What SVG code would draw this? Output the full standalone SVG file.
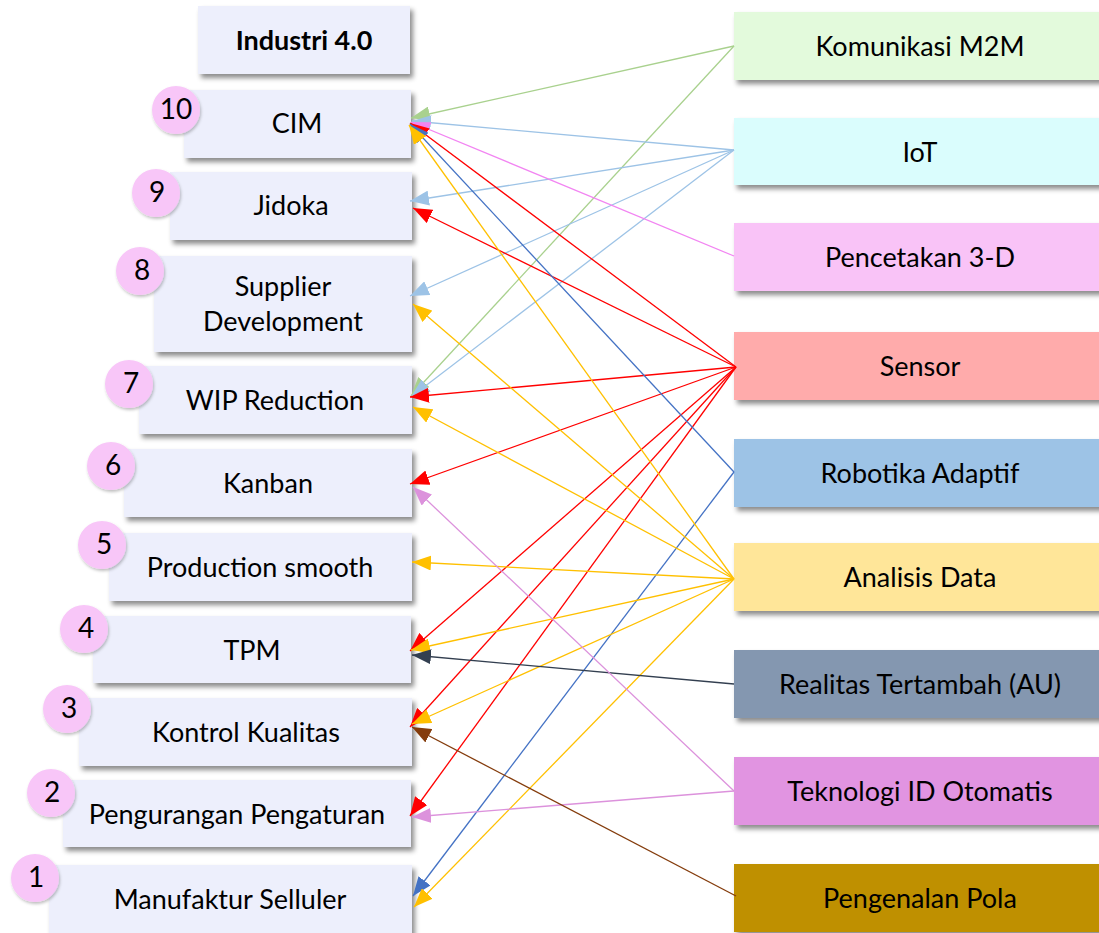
<svg xmlns="http://www.w3.org/2000/svg" width="1099" height="933" viewBox="0 0 1099 933">
  <defs>
    <filter id="shadow" x="-10%" y="-20%" width="130%" height="160%">
      <feDropShadow dx="3" dy="4" stdDeviation="2.5" flood-color="#000" flood-opacity="0.45"/>
    </filter>
    <filter id="shadowSoft" x="-20%" y="-20%" width="150%" height="150%">
      <feDropShadow dx="1" dy="2" stdDeviation="1.5" flood-color="#000" flood-opacity="0.25"/>
    </filter>
    <path id="tri" d="M0,0 L19,7.5 L0,15 z"/>
    <marker id="ah-green" markerWidth="19" markerHeight="15" refX="19" refY="7.5" orient="auto" markerUnits="userSpaceOnUse"><use href="#tri" fill="#A9D18E"/></marker>
    <marker id="ah-lblue" markerWidth="19" markerHeight="15" refX="19" refY="7.5" orient="auto" markerUnits="userSpaceOnUse"><use href="#tri" fill="#9DC3E6"/></marker>
    <marker id="ah-pink" markerWidth="19" markerHeight="15" refX="19" refY="7.5" orient="auto" markerUnits="userSpaceOnUse"><use href="#tri" fill="#F285F2"/></marker>
    <marker id="ah-red" markerWidth="19" markerHeight="15" refX="19" refY="7.5" orient="auto" markerUnits="userSpaceOnUse"><use href="#tri" fill="#FF0000"/></marker>
    <marker id="ah-blue" markerWidth="19" markerHeight="15" refX="19" refY="7.5" orient="auto" markerUnits="userSpaceOnUse"><use href="#tri" fill="#4472C4"/></marker>
    <marker id="ah-yellow" markerWidth="19" markerHeight="15" refX="19" refY="7.5" orient="auto" markerUnits="userSpaceOnUse"><use href="#tri" fill="#FFC000"/></marker>
    <marker id="ah-dark" markerWidth="19" markerHeight="15" refX="19" refY="7.5" orient="auto" markerUnits="userSpaceOnUse"><use href="#tri" fill="#333F50"/></marker>
    <marker id="ah-violet" markerWidth="19" markerHeight="15" refX="19" refY="7.5" orient="auto" markerUnits="userSpaceOnUse"><use href="#tri" fill="#DC92DC"/></marker>
    <marker id="ah-brown" markerWidth="19" markerHeight="15" refX="19" refY="7.5" orient="auto" markerUnits="userSpaceOnUse"><use href="#tri" fill="#843C0C"/></marker>
  </defs>
  <style>
    .box { fill: #EDEFFC; filter: url(#shadow); }
    .tech { filter: url(#shadow); }
    .num { fill: #F8C6F8; filter: url(#shadowSoft); }
    text { font-family: Lato, "Open Sans", "Liberation Sans", sans-serif; font-size: 27px; fill: #000; text-anchor: middle; }
    .title { font-weight: bold; }
    .n { font-size: 28px; }
    .c { fill: none; stroke-width: 1.3; }
    .green { stroke: #A9D18E; marker-end: url(#ah-green); }
    .lblue { stroke: #9DC3E6; marker-end: url(#ah-lblue); }
    .pink { stroke: #F285F2; marker-end: url(#ah-pink); }
    .red { stroke: #FF0000; marker-end: url(#ah-red); }
    .blue { stroke: #4472C4; marker-end: url(#ah-blue); }
    .yellow { stroke: #FFC000; marker-end: url(#ah-yellow); }
    .dark { stroke: #333F50; marker-end: url(#ah-dark); }
    .violet { stroke: #DC92DC; marker-end: url(#ah-violet); }
    .brown { stroke: #843C0C; marker-end: url(#ah-brown); }
  </style>
  <rect width="1099" height="933" fill="#fff"/>

  <!-- Lean practices (left column) -->
  <g id="industri40">
    <rect class="box" x="198" y="6" width="212" height="68"/>
    <text class="title" x="304" y="50">Industri 4.0</text>
  </g>
  <g id="cim">
    <rect class="box" x="184" y="90" width="227" height="68"/>
    <text x="297" y="133">CIM</text>
    <circle class="num" cx="176" cy="110" r="24"/>
    <text class="n" x="176" y="119">10</text>
  </g>
  <g id="jidoka">
    <rect class="box" x="170" y="172" width="242" height="68"/>
    <text x="291" y="215">Jidoka</text>
    <circle class="num" cx="156" cy="193" r="24"/>
    <text class="n" x="157" y="202">9</text>
  </g>
  <g id="supplier-development">
    <rect class="box" x="154" y="256" width="258" height="96"/>
    <text x="283" y="296">Supplier</text>
    <text x="283" y="331">Development</text>
    <circle class="num" cx="140" cy="271" r="24"/>
    <text class="n" x="142" y="280">8</text>
  </g>
  <g id="wip-reduction">
    <rect class="box" x="139" y="366" width="273" height="68"/>
    <text x="275" y="410">WIP Reduction</text>
    <circle class="num" cx="129" cy="384" r="24"/>
    <text class="n" x="131" y="393">7</text>
  </g>
  <g id="kanban">
    <rect class="box" x="124" y="449" width="288" height="68"/>
    <text x="268" y="493">Kanban</text>
    <circle class="num" cx="111" cy="466" r="24"/>
    <text class="n" x="113" y="475">6</text>
  </g>
  <g id="production-smooth">
    <rect class="box" x="109" y="533" width="303" height="68"/>
    <text x="260" y="577">Production smooth</text>
    <circle class="num" cx="102" cy="545" r="24"/>
    <text class="n" x="104" y="554">5</text>
  </g>
  <g id="tpm">
    <rect class="box" x="93" y="616" width="318" height="67"/>
    <text x="252" y="660">TPM</text>
    <circle class="num" cx="84" cy="629" r="24"/>
    <text class="n" x="86" y="638">4</text>
  </g>
  <g id="kontrol-kualitas">
    <rect class="box" x="79" y="698" width="333" height="68"/>
    <text x="246" y="742">Kontrol Kualitas</text>
    <circle class="num" cx="67" cy="709" r="24"/>
    <text class="n" x="69" y="718">3</text>
  </g>
  <g id="pengurangan-pengaturan">
    <rect class="box" x="63" y="780" width="348" height="67"/>
    <text x="237" y="824">Pengurangan Pengaturan</text>
    <circle class="num" cx="51" cy="793" r="24"/>
    <text class="n" x="52" y="802">2</text>
  </g>
  <g id="manufaktur-selluler">
    <rect class="box" x="49" y="865" width="363" height="72"/>
    <text x="230" y="909">Manufaktur Selluler</text>
    <circle class="num" cx="35" cy="878" r="24"/>
    <text class="n" x="36" y="887">1</text>
  </g>

  <!-- Industry 4.0 technologies (right column) -->
  <g id="komunikasi-m2m">
    <rect class="tech" x="734" y="12" width="372" height="68" fill="#E3FADC"/>
    <text x="920" y="56">Komunikasi M2M</text>
  </g>
  <g id="iot">
    <rect class="tech" x="734" y="118" width="372" height="67" fill="#DAFDFD"/>
    <text x="920" y="162">IoT</text>
  </g>
  <g id="pencetakan-3d">
    <rect class="tech" x="734" y="223" width="372" height="68" fill="#F9C3F7"/>
    <text x="920" y="267">Pencetakan 3-D</text>
  </g>
  <g id="sensor">
    <rect class="tech" x="734" y="332" width="372" height="68" fill="#FFABAB"/>
    <text x="920" y="376">Sensor</text>
  </g>
  <g id="robotika-adaptif">
    <rect class="tech" x="734" y="439" width="372" height="68" fill="#9DC3E6"/>
    <text x="920" y="483">Robotika Adaptif</text>
  </g>
  <g id="analisis-data">
    <rect class="tech" x="734" y="543" width="372" height="68" fill="#FFE699"/>
    <text x="920" y="587">Analisis Data</text>
  </g>
  <g id="realitas-tertambah">
    <rect class="tech" x="734" y="650" width="372" height="68" fill="#8497B0"/>
    <text x="920" y="694">Realitas Tertambah (AU)</text>
  </g>
  <g id="teknologi-id">
    <rect class="tech" x="734" y="757" width="372" height="68" fill="#E194E1"/>
    <text x="920" y="801">Teknologi ID Otomatis</text>
  </g>
  <g id="pengenalan-pola">
    <rect class="tech" x="734" y="864" width="372" height="68" fill="#BF9000"/>
    <text x="920" y="908">Pengenalan Pola</text>
  </g>

  <!-- Connectors: technology -> practice -->
  <g id="connectors">
    <line class="c green" x1="734" y1="46" x2="411" y2="118"/>
    <line class="c green" x1="734" y1="46" x2="411" y2="396"/>

    <line class="c lblue" x1="734" y1="150" x2="412" y2="121"/>
    <line class="c lblue" x1="734" y1="150" x2="410" y2="201"/>
    <line class="c lblue" x1="734" y1="150" x2="410" y2="296"/>
    <line class="c lblue" x1="734" y1="150" x2="411" y2="397"/>

    <line class="c pink" x1="734" y1="256" x2="411" y2="122"/>

    <line class="c red" x1="736" y1="367" x2="410" y2="123"/>
    <line class="c red" x1="736" y1="367" x2="413" y2="208"/>
    <line class="c red" x1="736" y1="367" x2="410" y2="397"/>
    <line class="c red" x1="736" y1="367" x2="410" y2="484"/>
    <line class="c red" x1="736" y1="367" x2="410" y2="651"/>
    <line class="c red" x1="736" y1="367" x2="410" y2="727"/>
    <line class="c red" x1="736" y1="367" x2="410" y2="816"/>

    <line class="c blue" x1="734" y1="472" x2="410" y2="124"/>
    <line class="c blue" x1="734" y1="472" x2="413" y2="896"/>

    <line class="c yellow" x1="734" y1="579" x2="409" y2="125"/>
    <line class="c yellow" x1="734" y1="579" x2="413" y2="304"/>
    <line class="c yellow" x1="734" y1="579" x2="413" y2="407"/>
    <line class="c yellow" x1="734" y1="579" x2="412" y2="562"/>
    <line class="c yellow" x1="734" y1="579" x2="411" y2="650"/>
    <line class="c yellow" x1="734" y1="579" x2="412" y2="724"/>
    <line class="c yellow" x1="734" y1="579" x2="414" y2="907"/>

    <line class="c dark" x1="734" y1="684" x2="412" y2="655"/>

    <line class="c violet" x1="734" y1="791" x2="413" y2="487"/>
    <line class="c violet" x1="734" y1="791" x2="412" y2="817"/>

    <line class="c brown" x1="736" y1="896" x2="412" y2="727"/>
  </g>
</svg>
